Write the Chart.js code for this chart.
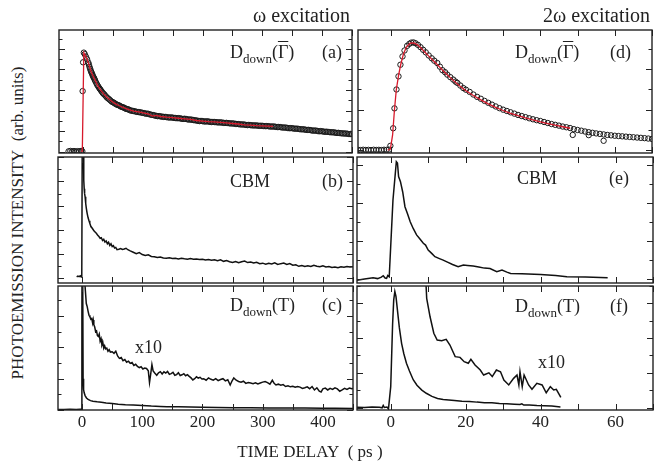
<!DOCTYPE html>
<html>
<head>
<meta charset="utf-8">
<style>
body { margin: 0; background: #fff; }
#fig { position: relative; width: 661px; height: 468px; font-family: "Liberation Serif", "DejaVu Serif", serif; color: #222; overflow: hidden; }
#fig canvas { position: absolute; }
.t { position: absolute; white-space: nowrap; line-height: 20px; }
.lab { position: absolute; white-space: nowrap; font-size: 18px; line-height: 20px; transform: translateY(-50%); }
.lab sub { font-size: 13px; vertical-align: -5px; line-height: 0; }
.ov { text-decoration: overline; }
</style>
</head>
<body>
<div id="fig">
    <canvas id="pa" width="303" height="133" style="left:54px;top:25px"></canvas>
    <canvas id="pb" width="303" height="134" style="left:54px;top:153px"></canvas>
    <canvas id="pc" width="303" height="162" style="left:54px;top:282px"></canvas>
    <canvas id="pd" width="304" height="133" style="left:353px;top:25px"></canvas>
    <canvas id="pe" width="304" height="134" style="left:353px;top:153px"></canvas>
    <canvas id="pf" width="304" height="162" style="left:353px;top:282px"></canvas>

    <div class="t" style="left:253px;top:5px;font-size:20px">ω excitation</div>
    <div class="t" style="left:543px;top:5px;font-size:20px">2ω excitation</div>
    <div class="t" style="left:18px;top:223px;font-size:17px;transform:translate(-50%,-50%) rotate(-90deg)">PHOTOEMISSION INTENSITY&nbsp; (arb. units)</div>
    <div class="t" style="left:310px;top:452px;font-size:17px;transform:translate(-50%,-50%)">TIME DELAY&nbsp; ( ps )</div>

    <div class="lab" style="left:230px;top:52px">D<sub>down</sub>(<span class="ov">Γ</span>)</div>
    <div class="lab" style="left:322px;top:52px">(a)</div>
    <div class="lab" style="left:230px;top:181px">CBM</div>
    <div class="lab" style="left:322px;top:181px">(b)</div>
    <div class="lab" style="left:230px;top:305px">D<sub>down</sub>(T)</div>
    <div class="lab" style="left:322px;top:305px">(c)</div>
    <div class="lab" style="left:135px;top:347px">x10</div>

    <div class="lab" style="left:515px;top:52px">D<sub>down</sub>(<span class="ov">Γ</span>)</div>
    <div class="lab" style="left:610px;top:52px">(d)</div>
    <div class="lab" style="left:517px;top:178px">CBM</div>
    <div class="lab" style="left:609px;top:178px">(e)</div>
    <div class="lab" style="left:515px;top:306px">D<sub>down</sub>(T)</div>
    <div class="lab" style="left:610px;top:306px">(f)</div>
    <div class="lab" style="left:538px;top:362px">x10</div>
</div>
<script src="https://cdn.jsdelivr.net/npm/chart.js"></script>
<script>
// tick labels on the two time axes (ps)
var leftTicks = [0, 100, 200, 300, 400];
var rightTicks = [0, 20, 40, 60];

// ---- panel (a): D_down(Gamma), omega excitation, circles + red fit
var aX = [-24, -21, -18, -15, -12, -9, -6, -3, -1, -0.5,
    0.3, 1.5, 3, 5, 7, 9, 11, 13, 15, 17,
    19, 21, 24, 27, 30, 33, 36, 40, 44, 48,
    52, 56, 60, 64, 68, 72, 76, 80, 85, 90,
    95, 100, 105, 110, 115, 120, 125, 130, 135, 140,
    145, 150, 155, 160, 165, 170, 175, 180, 185, 190,
    195, 200, 205, 210, 215, 220, 225, 230, 235, 240,
    245, 250, 255, 260, 265, 270, 275, 280, 285, 290,
    295, 300, 305, 310, 315, 320, 325, 330, 335, 340,
    345, 350, 355, 360, 365, 370, 375, 380, 385, 390,
    395, 400, 405, 410, 415, 420, 425, 430, 435, 440,
    445, 450];
var aY = [0.004, 0.008, 0.003, 0.007, 0.002, 0.006, 0.004, 0.008, 0.005, 0.59,
    0.87, 0.964, 0.95, 0.925, 0.9, 0.868, 0.826, 0.79, 0.762, 0.733,
    0.712, 0.684, 0.65, 0.622, 0.598, 0.573, 0.556, 0.528, 0.51, 0.488,
    0.476, 0.46, 0.452, 0.438, 0.431, 0.418, 0.412, 0.401, 0.396, 0.388,
    0.385, 0.378, 0.370, 0.368, 0.359, 0.353, 0.346, 0.344, 0.339, 0.337,
    0.333, 0.332, 0.328, 0.327, 0.321, 0.321, 0.315, 0.314, 0.308, 0.304,
    0.298, 0.298, 0.294, 0.294, 0.289, 0.289, 0.286, 0.286, 0.281, 0.281,
    0.277, 0.276, 0.271, 0.269, 0.265, 0.264, 0.259, 0.259, 0.256, 0.256,
    0.252, 0.252, 0.249, 0.249, 0.245, 0.245, 0.240, 0.240, 0.235, 0.234,
    0.229, 0.229, 0.224, 0.223, 0.218, 0.217, 0.212, 0.211, 0.205, 0.205,
    0.199, 0.199, 0.194, 0.193, 0.189, 0.188, 0.183, 0.181, 0.178, 0.177,
    0.172, 0.172];
// in-between sample times of the same scan (the circles overlap into a band)
var aX2 = [10, 12, 14, 16, 18, 20, 22.5, 25.5, 28.5, 31.5,
    34.5, 38, 42, 46, 50, 54, 58, 62, 66, 70,
    74, 78, 82.5, 87.5, 92.5, 97.5,
    102.5, 107.5, 112.5, 117.5, 122.5, 127.5, 132.5, 137.5, 142.5, 147.5,
    152.5, 157.5, 162.5, 167.5, 172.5, 177.5, 182.5, 187.5, 192.5, 197.5,
    202.5, 207.5, 212.5, 217.5, 222.5, 227.5, 232.5, 237.5, 242.5, 247.5,
    252.5, 257.5, 262.5, 267.5, 272.5, 277.5, 282.5, 287.5, 292.5, 297.5,
    302.5, 307.5, 312.5, 317.5, 322.5, 327.5, 332.5, 337.5, 342.5, 347.5,
    352.5, 357.5, 362.5, 367.5, 372.5, 377.5, 382.5, 387.5, 392.5, 397.5,
    402.5, 407.5, 412.5, 417.5, 422.5, 427.5, 432.5, 437.5, 442.5, 447.5];
var aY2 = [0.848, 0.808, 0.776, 0.748, 0.722, 0.698, 0.667, 0.636, 0.61, 0.585,
    0.564, 0.542, 0.519, 0.499, 0.482, 0.468, 0.456, 0.445, 0.434, 0.424,
    0.415, 0.406, 0.398, 0.392, 0.386, 0.381,
    0.376, 0.371, 0.362, 0.357, 0.349, 0.347, 0.341, 0.339, 0.334, 0.334,
    0.329, 0.326, 0.325, 0.319, 0.319, 0.313, 0.311, 0.306, 0.301, 0.300,
    0.295, 0.296, 0.291, 0.290, 0.288, 0.285, 0.284, 0.280, 0.279, 0.275,
    0.274, 0.270, 0.267, 0.266, 0.261, 0.261, 0.257, 0.256, 0.254, 0.253,
    0.250, 0.250, 0.246, 0.246, 0.242, 0.241, 0.237, 0.236, 0.231, 0.230,
    0.226, 0.225, 0.220, 0.219, 0.214, 0.213, 0.208, 0.207, 0.202, 0.201,
    0.196, 0.195, 0.191, 0.190, 0.185, 0.184, 0.180, 0.178, 0.175, 0.173];
var aFitX = [-3, -1, 1.5, 4, 7, 10, 13, 16, 20, 25,
    30, 35, 40, 46, 52, 58, 64, 70, 77, 85,
    93, 101, 110, 116, 122, 130, 140, 150, 160, 170,
    180, 190, 200, 210, 220, 230, 240, 250, 260, 270,
    280, 290, 300, 310, 318];
var aFitY = [0.004, 0.006, 0.962, 0.935, 0.9, 0.85, 0.79, 0.748, 0.70, 0.64,
    0.597, 0.56, 0.53, 0.50, 0.475, 0.455, 0.44, 0.425, 0.41, 0.396,
    0.388, 0.378, 0.367, 0.347, 0.354, 0.343, 0.336, 0.331, 0.326, 0.32,
    0.314, 0.304, 0.298, 0.293, 0.29, 0.286, 0.28, 0.275, 0.27, 0.262,
    0.26, 0.255, 0.252, 0.249, 0.247];

// ---- panel (b): CBM, omega excitation
var bX = [-9, -7, -5, -3, -1.5, -0.5, 0.3, 1.2, 2, 2.8,
    3.5, 4.2, 5, 6, 7, 8.4, 10, 11.5, 12.8, 14.5,
    16, 18, 20, 22, 24, 26, 28, 30, 32, 34,
    36, 38, 40, 42, 44, 46, 48, 50, 52, 54,
    56, 58, 61, 64, 67, 70, 73, 76, 80, 85,
    90, 95, 100, 105, 110, 115, 120, 125, 130, 135,
    140, 145, 150, 155, 160, 165, 170, 175, 180, 185,
    190, 195, 200, 205, 210, 215, 220, 225, 230, 235,
    240, 245, 250, 255, 260, 265, 270, 275, 280, 285,
    290, 295, 300, 305, 310, 315, 320, 325, 330, 335,
    340, 345, 350, 355, 360, 365, 370, 375, 380, 385,
    390, 395, 400, 405, 410, 415, 420, 425, 430, 435,
    440, 445, 450];
var bY = [0.012, 0.018, 0.014, 0.02, 0.01, 0.012, 1.2, 1.6, 1.25, 0.81,
    0.74, 0.70, 0.674, 0.62, 0.58, 0.537, 0.50, 0.475, 0.455, 0.43,
    0.42, 0.405, 0.39, 0.38, 0.37, 0.355, 0.345, 0.33, 0.335, 0.312,
    0.322, 0.30, 0.308, 0.285, 0.298, 0.272, 0.285, 0.262, 0.27, 0.25,
    0.255, 0.236, 0.24, 0.246, 0.238, 0.242, 0.248, 0.236, 0.226, 0.215,
    0.203, 0.212, 0.196, 0.188, 0.194, 0.180, 0.178, 0.171, 0.176, 0.168,
    0.165, 0.170, 0.163, 0.166, 0.160, 0.166, 0.161, 0.158, 0.164, 0.157,
    0.160, 0.155, 0.158, 0.151, 0.156, 0.149, 0.153, 0.146, 0.152, 0.140,
    0.146, 0.137, 0.131, 0.139, 0.128, 0.136, 0.142, 0.130, 0.135, 0.126,
    0.132, 0.121, 0.125, 0.116, 0.124, 0.118, 0.127, 0.115, 0.121, 0.126,
    0.114, 0.122, 0.108, 0.112, 0.099, 0.106, 0.098, 0.104, 0.097, 0.108,
    0.100, 0.095, 0.104, 0.094, 0.098, 0.090, 0.093, 0.088, 0.095, 0.091,
    0.097, 0.093, 0.096];

// ---- panel (c): D_down(T), omega excitation, raw and x10
var cX = [-40, -30, -20, -10, -3, -1, -0.3, 0.3, 1.0, 1.7,
    2.5, 3.5, 5, 7.3, 10, 14, 18, 25, 32, 40,
    50, 60, 72, 85, 100, 115, 130, 141, 160, 180,
    200, 225, 252, 280, 310, 340, 370, 400, 420, 450];
var cY = [0.003, 0.003, 0.004, 0.003, 0.004, 0.004, 0.6, 1.4, 0.9, 0.2,
    0.13, 0.11, 0.092, 0.077, 0.068, 0.06, 0.056, 0.052, 0.049, 0.045,
    0.041, 0.037, 0.034, 0.032, 0.029, 0.025, 0.023, 0.021, 0.02, 0.019,
    0.017, 0.016, 0.015, 0.014, 0.013, 0.012, 0.012, 0.011, 0.011, 0.01];
var c10X = [4, 5.5, 7, 8.5, 10, 11.5, 13, 14.5, 16, 17.5,
    18.5, 19.5, 21, 22.5, 24, 25.5, 27, 28.5, 30, 31.5,
    33, 34.5, 36, 37.5, 39, 41, 43, 45, 47, 50,
    53, 56, 59, 62, 65, 68, 71, 74, 77, 80,
    83, 86, 89, 92, 95, 98, 101, 104, 107, 110,
    112, 114, 116, 118, 121, 124, 127, 130, 133, 136,
    139, 142, 145, 148, 151, 154, 157, 160, 163, 166,
    169, 172, 175, 178, 181, 184, 187, 190, 193, 196,
    199, 202, 206, 210, 214, 218, 222, 226, 230, 234,
    238, 242, 246, 249, 252, 256, 260, 264, 268, 272,
    276, 280, 284, 288, 292, 296, 300, 304, 308, 312,
    316, 319, 322, 326, 330, 334, 338, 342, 346, 350,
    354, 358, 362, 366, 370, 374, 378, 382, 386, 390,
    394, 397, 400, 404, 408, 412, 416, 420, 424, 428,
    432, 436, 440, 444, 448, 450];
var c10Y = [0.85, 0.76, 0.68, 0.66, 0.63, 0.605, 0.595, 0.58, 0.585, 0.555,
    0.575, 0.545, 0.53, 0.50, 0.505, 0.475, 0.47, 0.485, 0.44, 0.455,
    0.415, 0.43, 0.395, 0.41, 0.39, 0.395, 0.375, 0.385, 0.37, 0.372,
    0.362, 0.376, 0.345, 0.33, 0.335, 0.315, 0.322, 0.305, 0.312, 0.298,
    0.303, 0.285, 0.292, 0.278, 0.27, 0.276, 0.262, 0.268, 0.265, 0.25,
    0.175, 0.23, 0.29, 0.25, 0.235, 0.222, 0.238, 0.245, 0.23, 0.244,
    0.236, 0.246, 0.228, 0.232, 0.24, 0.222, 0.226, 0.238, 0.22, 0.225,
    0.232, 0.219, 0.226, 0.215, 0.205, 0.192, 0.2, 0.212, 0.204, 0.209,
    0.198, 0.2, 0.19, 0.205, 0.196, 0.19, 0.2, 0.188, 0.195, 0.2,
    0.186, 0.193, 0.16, 0.185, 0.205, 0.19, 0.182, 0.178, 0.184, 0.17,
    0.175, 0.172, 0.168, 0.174, 0.166, 0.172, 0.178, 0.182, 0.175, 0.165,
    0.19, 0.17, 0.16, 0.165, 0.158, 0.162, 0.15, 0.155, 0.148, 0.152,
    0.145, 0.15, 0.146, 0.138, 0.142, 0.148, 0.136, 0.15, 0.128, 0.142,
    0.12, 0.115, 0.135, 0.14, 0.128, 0.138, 0.132, 0.142, 0.135, 0.12,
    0.128, 0.138, 0.132, 0.14, 0.136, 0.138];

// ---- panel (d): D_down(Gamma), 2 omega excitation
var dX = [-9, -8.3, -7.6, -6.9, -6.2, -5.5, -4.8, -4.1, -3.4, -2.7,
    -2.0, -1.3, -0.7, -0.3, 0.45, 0.8, 1.34, 1.88, 2.4, 2.96,
    3.5, 4.2, 4.8, 5.3, 5.9, 6.45, 7.1, 7.8, 8.5, 9.2,
    10, 10.8, 11.5, 12.3, 13, 13.7, 14.4, 15, 15.8, 16.6,
    17.2, 17.7, 18.5, 19.3, 20, 21, 22, 23, 24, 25,
    26, 27, 28, 29, 30, 31, 32, 33, 34, 35,
    36, 37, 38, 39, 40, 41, 42, 43, 44, 45,
    46, 47, 48, 49, 50, 51, 52, 53, 54, 55,
    56, 57, 58, 59, 60, 61, 62, 63, 64, 65,
    66, 67, 68, 69, 70, 48.7, 53, 57];
var dY = [0.002, 0.0, 0.003, 0.001, 0.002, 0.0, 0.003, 0.001, 0.002, 0.0,
    0.003, 0.002, 0.004, 0.042, 0.216, 0.413, 0.6, 0.73, 0.845, 0.927,
    0.986, 1.032, 1.052, 1.064, 1.066, 1.058, 1.042, 1.019, 0.993, 0.968,
    0.937, 0.909, 0.885, 0.862, 0.826, 0.791, 0.771, 0.747, 0.722, 0.698,
    0.678, 0.665, 0.639, 0.614, 0.598, 0.576, 0.55, 0.527, 0.508, 0.487,
    0.468, 0.45, 0.432, 0.415, 0.4, 0.387, 0.374, 0.361, 0.348, 0.337,
    0.326, 0.315, 0.305, 0.296, 0.288, 0.278, 0.268, 0.258, 0.25, 0.242,
    0.233, 0.226, 0.218, 0.207, 0.199, 0.192, 0.184, 0.177, 0.171, 0.165,
    0.16, 0.155, 0.15, 0.146, 0.142, 0.139, 0.136, 0.133, 0.13, 0.127,
    0.124, 0.121, 0.118, 0.114, 0.11, 0.15, 0.148, 0.092];
var dFitX = [-1, -0.3, 0.3, 0.8, 1.3, 1.9, 2.5, 3.2, 4, 5,
    6, 7, 8, 9, 10, 12, 14, 16, 18, 20,
    22, 24, 26, 28, 30, 32, 34, 36, 38, 40,
    42, 44, 46, 48];
var dFitY = [0.0, 0.01, 0.15, 0.40, 0.6, 0.74, 0.85, 0.95, 1.02, 1.058,
    1.062, 1.042, 1.008, 0.968, 0.93, 0.858, 0.78, 0.71, 0.645, 0.588,
    0.54, 0.497, 0.458, 0.423, 0.392, 0.364, 0.34, 0.318, 0.298, 0.28,
    0.263, 0.246, 0.231, 0.216];

// ---- panel (e): CBM, 2 omega excitation
var eX = [-9, -7, -4.7, -3.5, -2.5, -2, -1.5, -1.1, -0.8, -0.4,
    0.6, 1.5, 1.8, 2.1, 2.6, 3.2, 3.8, 4.5, 5.2, 6,
    6.9, 7.8, 8.7, 9.3, 10, 11, 11.8, 13, 14, 15,
    16.5, 18, 19.4, 20.5, 22, 23.5, 25, 26.5, 28.3, 29.7,
    31, 32, 35, 40, 44, 47, 52, 57.9];
var eY = [-0.004, 0.002, 0.008, 0.004, 0.012, 0.019, 0.007, 0.005, 0.02, 0.014,
    0.416, 0.617, 0.61, 0.539, 0.512, 0.458, 0.381, 0.343, 0.302, 0.267,
    0.233, 0.212, 0.189, 0.18, 0.154, 0.135, 0.119, 0.109, 0.101, 0.092,
    0.078, 0.066, 0.075, 0.073, 0.07, 0.065, 0.059, 0.057, 0.04, 0.049,
    0.038, 0.031, 0.029, 0.026, 0.02, 0.014, 0.012, 0.008];

// ---- panel (f): D_down(T), 2 omega excitation, raw and x10
var fX = [-9, -7, -5, -3, -2.3, -2, -1.7, -1, -0.6, 0,
    0.5, 0.8, 1.1, 1.4, 1.8, 2.3, 2.9, 3.5, 4.2, 5,
    6, 7, 8.3, 9.5, 11, 12.5, 14, 15.5, 17, 19,
    21, 23, 25, 27, 29, 31, 33, 34.5, 35, 35.5,
    37, 39, 41, 43, 45.3];
var fY = [0.002, 0.0, 0.003, 0.001, -0.002, 0.012, 0.0, 0.003, -0.008, 0.12,
    0.48, 0.62, 0.669, 0.64, 0.56, 0.46, 0.37, 0.31, 0.255, 0.21,
    0.16, 0.128, 0.1, 0.082, 0.064, 0.052, 0.046, 0.043, 0.04, 0.036,
    0.035, 0.031, 0.028, 0.027, 0.023, 0.022, 0.019, 0.017, 0.021, 0.014,
    0.015, 0.011, 0.01, 0.008, 0.003];
var f10X = [9.0, 9.6, 10.5, 11.5, 12.4, 13.6, 14.8, 15.8, 17.2, 18.5,
    19.6, 20.7, 21.4, 22.5, 23.9, 24.8, 26.2, 27.1, 28.2, 29.3,
    30.2, 31.5, 32.8, 33.7, 34.2, 34.5, 35.1, 35.6, 36.8, 37.7,
    39, 40.4, 41.5, 42.6, 43.5, 44.2, 45.4];
var f10Y = [0.9, 0.629, 0.523, 0.428, 0.389, 0.385, 0.393, 0.36, 0.293, 0.289,
    0.264, 0.255, 0.278, 0.245, 0.216, 0.187, 0.2, 0.178, 0.216, 0.206,
    0.158, 0.13, 0.168, 0.187, 0.13, 0.206, 0.12, 0.187, 0.13, 0.105,
    0.139, 0.13, 0.085, 0.12, 0.101, 0.105, 0.059];

function pts(xs, ys) {
    return xs.map(function (x, i) { return { x: x, y: ys[i] }; });
}
function line(xs, ys, color, w) {
    return { data: pts(xs, ys), showLine: true, borderColor: color, borderWidth: w, pointRadius: 0, tension: 0 };
}
function circles(xs, ys) {
    return { data: pts(xs, ys), showLine: false, pointRadius: 2.7, pointBorderWidth: 1,
        pointBorderColor: '#1a1a1a', pointBackgroundColor: 'rgba(255,255,255,0)' };
}

// box with inward ticks on all four sides
var framePlugin = {
    id: 'frame',
    afterDatasetsDraw: function (chart, args, o) {
        var ctx = chart.ctx, a = chart.chartArea, xs = chart.scales.x, ys = chart.scales.y;
        ctx.save();
        ctx.strokeStyle = '#222';
        ctx.lineWidth = 1;
        ctx.beginPath();
        for (var v = Math.ceil(xs.min / o.xStep) * o.xStep; v <= xs.max; v += o.xStep) {
            var px = Math.round(xs.getPixelForValue(v)) + 0.5;
            ctx.moveTo(px, a.bottom); ctx.lineTo(px, a.bottom - 6);
            ctx.moveTo(px, a.top); ctx.lineTo(px, a.top + 6);
        }
        var n0 = Math.ceil(ys.min / o.yMinor - 1e-6), n1 = Math.floor(ys.max / o.yMinor + 1e-6);
        for (var n = n0; n <= n1; n++) {
            var val = n * o.yMinor;
            var r = val / o.yMajor;
            var len = Math.abs(r - Math.round(r)) < 1e-6 ? 6 : 3.5;
            var py = Math.round(ys.getPixelForValue(val)) + 0.5;
            ctx.moveTo(a.left, py); ctx.lineTo(a.left + len, py);
            ctx.moveTo(a.right, py); ctx.lineTo(a.right - len, py);
        }
        ctx.stroke();
        ctx.lineWidth = 1.4;
        ctx.strokeRect(a.left, a.top, a.right - a.left, a.bottom - a.top);
        ctx.restore();
    }
};

function drawPanel(id, xr, yr, yMajor, yMinor, xStep, labels, datasets) {
    var P = 4;
    var bottom = labels !== null;
    var xOpts = { type: 'linear', min: xr[0], max: xr[1], display: bottom };
    if (bottom) {
        xOpts.grid = { display: false, drawTicks: false };
        xOpts.border = { display: false };
        xOpts.ticks = { autoSkip: false, maxRotation: 0, padding: 2, color: '#222',
            font: { family: 'Liberation Serif', size: 17 } };
        xOpts.afterBuildTicks = function (s) {
            s.ticks = labels.map(function (v) { return { value: v }; });
        };
        xOpts.afterFit = function (s) { s.height = 34; };
    }
    var ctx = document.getElementById(id).getContext('2d');
    return new Chart(ctx, {
        type: 'scatter',
        data: { datasets: datasets },
        plugins: [framePlugin],
        options: {
            responsive: false,
            animation: false,
            devicePixelRatio: 1,
            layout: { padding: { left: P, right: P, top: P, bottom: bottom ? 0 : P } },
            plugins: {
                legend: { display: false },
                tooltip: { enabled: false },
                frame: { xStep: xStep, yMajor: yMajor, yMinor: yMinor }
            },
            scales: {
                x: xOpts,
                y: { type: 'linear', min: yr[0], max: yr[1], display: false }
            }
        }
    });
}

var leftRange = [-40, 450], rightRange = [-9, 70];
var red = '#d7192b', black = '#111';

drawPanel('pa', leftRange, [-0.012, 1.184], 0.2, 0.1, 50, null,
    [line(aFitX, aFitY, red, 1.3), circles(aX, aY), circles(aX2, aY2)]);
drawPanel('pb', leftRange, [-0.039, 1.0025], 0.2, 0.1, 50, null,
    [line(bX, bY, black, 1.5)]);
drawPanel('pc', leftRange, [0, 0.792], 0.2, 0.1, 50, leftTicks,
    [line(cX, cY, black, 1.5), line(c10X, c10Y, black, 1.5)]);
drawPanel('pd', rightRange, [-0.029, 1.189], 0.4, 0.2, 10, null,
    [line(dFitX, dFitY, red, 1.3), circles(dX, dY)]);
drawPanel('pe', rightRange, [-0.019, 0.6415], 0.2, 0.1, 10, null,
    [line(eX, eY, black, 1.5)]);
drawPanel('pf', rightRange, [-0.0144, 0.7003], 0.2, 0.1, 10, rightTicks,
    [line(fX, fY, black, 1.5), line(f10X, f10Y, black, 1.5)]);
</script>
</body>
</html>
